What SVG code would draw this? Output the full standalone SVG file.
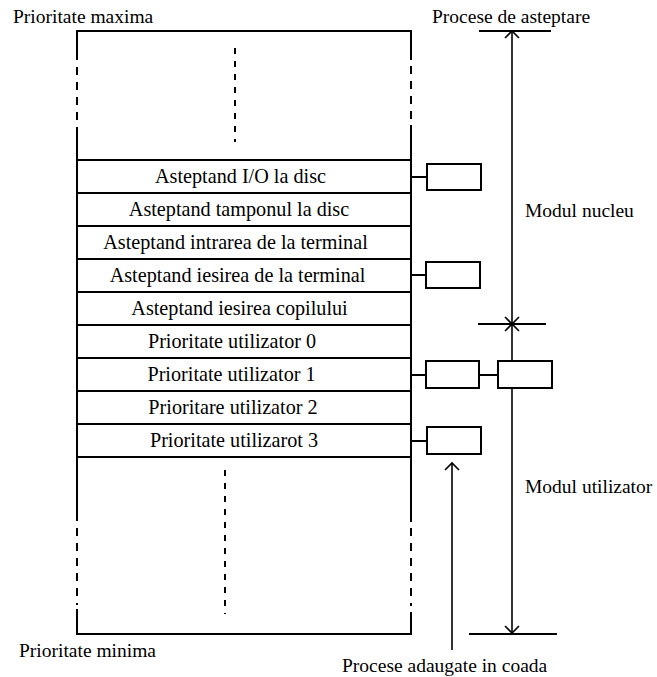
<svg xmlns="http://www.w3.org/2000/svg" width="657" height="677" viewBox="0 0 657 677">
  <style>
    .ln { stroke: #000; stroke-width: 2; fill: none; }
    .thin { stroke: #000; stroke-width: 1.6; fill: none; }
    .dash { stroke: #000; stroke-width: 2; fill: none; stroke-dasharray: 8 7; }
    .dot { stroke: #000; stroke-width: 2; fill: none; stroke-dasharray: 6 7; }
    .box { stroke: #000; stroke-width: 2; fill: #fff; }
    text { font-size: 19.5px; fill: #000; }
    .c { text-anchor: middle; font-size: 20.2px; }
  </style>
  <rect width="657" height="677" fill="#fff"/>

  <!-- priority table: outer frame -->
  <g id="table-frame">
    <path class="ln" d="M77,60 V31 H411 V60"/>
    <line class="dash" x1="77" y1="67" x2="77" y2="127"/>
    <line class="dash" x1="411" y1="66" x2="411" y2="120"/>
    <line class="ln" x1="77" y1="127" x2="77" y2="521"/>
    <line class="ln" x1="411" y1="125" x2="411" y2="522"/>
    <line class="dot" x1="235" y1="48" x2="235" y2="142"/>
    <line class="dash" x1="77" y1="528" x2="77" y2="605"/>
    <line class="dash" x1="411" y1="528" x2="411" y2="606"/>
    <path class="ln" d="M77,609 V634 H411 V612"/>
    <line class="dot" x1="225" y1="470" x2="225" y2="614"/>
  </g>

  <!-- priority rows -->
  <g id="rows">
    <line class="ln" x1="77" y1="160" x2="411" y2="160"/>
    <line class="ln" x1="77" y1="193" x2="411" y2="193"/>
    <line class="ln" x1="77" y1="226" x2="411" y2="226"/>
    <line class="ln" x1="77" y1="259" x2="411" y2="259"/>
    <line class="ln" x1="77" y1="292" x2="411" y2="292"/>
    <line class="ln" x1="77" y1="325" x2="411" y2="325"/>
    <line class="ln" x1="77" y1="358" x2="411" y2="358"/>
    <line class="ln" x1="77" y1="391" x2="411" y2="391"/>
    <line class="ln" x1="77" y1="424" x2="411" y2="424"/>
    <line class="ln" x1="77" y1="457" x2="411" y2="457"/>
  </g>
  <g font-family="'Liberation Serif', 'Times New Roman', Times, serif">
    <g id="row-io-disc"><text class="c" x="240.5" y="183">Asteptand I/O la disc</text></g>
    <g id="row-buffer-disc"><text class="c" x="239" y="216">Asteptand tamponul la disc</text></g>
    <g id="row-term-in"><text class="c" x="235.5" y="249">Asteptand intrarea de la terminal</text></g>
    <g id="row-term-out"><text class="c" x="237.5" y="282">Asteptand iesirea de la terminal</text></g>
    <g id="row-child"><text class="c" x="239.5" y="315">Asteptand iesirea copilului</text></g>
    <g id="row-user0"><text class="c" x="232" y="348">Prioritate utilizator 0</text></g>
    <g id="row-user1"><text class="c" x="231.5" y="381">Prioritate utilizator 1</text></g>
    <g id="row-user2"><text class="c" x="233" y="414">Prioritare utilizator 2</text></g>
    <g id="row-user3"><text class="c" x="234" y="447">Prioritate utilizarot 3</text></g>
  </g>

  <!-- process queues -->
  <g id="proc-1"><rect class="box" x="427" y="164" width="54" height="26"/></g>
  <g id="proc-2"><rect class="box" x="426" y="262" width="54" height="26"/></g>
  <g id="proc-3"><rect class="box" x="426" y="361" width="53" height="27"/></g>
  <g id="proc-4"><rect class="box" x="498" y="361" width="54" height="27"/></g>
  <g id="proc-5"><rect class="box" x="427" y="427" width="54" height="27"/></g>

  <!-- connectors and range markers -->
  <g id="connectors">
    <line class="ln" x1="411" y1="177" x2="427" y2="177"/>
    <line class="ln" x1="411" y1="275" x2="426" y2="275"/>
    <line class="ln" x1="411" y1="375" x2="426" y2="375"/>
    <line class="ln" x1="479" y1="375" x2="498" y2="375"/>
    <line class="ln" x1="411" y1="441" x2="427" y2="441"/>

    <!-- kernel-mode span -->
    <line class="ln" x1="479" y1="31" x2="551" y2="31"/>
    <line class="thin" x1="512" y1="31" x2="512" y2="324"/>
    <path class="thin" d="M505,38 L512,31 L519,38"/>
    <path class="thin" d="M505,317 L512,324 L519,317"/>
    <line class="ln" x1="478" y1="324" x2="546" y2="324"/>

    <!-- user-mode span -->
    <line class="thin" x1="512" y1="324" x2="512" y2="361"/>
    <line class="thin" x1="512" y1="388" x2="512" y2="633"/>
    <path class="thin" d="M505,331 L512,324 L519,331"/>
    <path class="thin" d="M505,626 L512,633 L519,626"/>
    <line class="ln" x1="469" y1="634" x2="557" y2="634"/>

    <!-- enqueue arrow -->
    <line class="thin" x1="452" y1="463" x2="452" y2="650"/>
    <path class="thin" d="M445,470 L452,463 L459,470"/>
  </g>

  <!-- labels -->
  <g id="labels" font-family="'Liberation Serif', 'Times New Roman', Times, serif">
    <text x="13" y="23">Prioritate maxima</text>
    <text x="432" y="23">Procese de asteptare</text>
    <text x="525" y="217">Modul nucleu</text>
    <text x="525" y="493">Modul utilizator</text>
    <text x="19" y="657">Prioritate minima</text>
    <text x="342" y="672">Procese adaugate in coada</text>
  </g>
</svg>
